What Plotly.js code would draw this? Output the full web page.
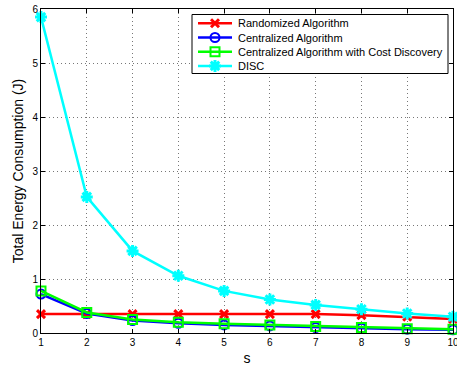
<!DOCTYPE html>
<html>
<head>
<script src="https://cdn.plot.ly/plotly-3.0.1.min.js"></script>
<style>html,body{margin:0;padding:0;background:#fff;}#chart{width:457px;height:370px;}</style>
</head>
<body>
<div id="chart"></div>
<script>
const sValues = [1, 2, 3, 4, 5, 6, 7, 8, 9, 10];
const randomized = [0.35, 0.35, 0.35, 0.35, 0.35, 0.35, 0.35, 0.33, 0.30, 0.26];
const centralized = [0.72, 0.36, 0.23, 0.18, 0.15, 0.13, 0.10, 0.09, 0.07, 0.06];
const centralizedCost = [0.78, 0.38, 0.25, 0.20, 0.17, 0.15, 0.12, 0.10, 0.08, 0.07];
const disc = [5.85, 2.52, 1.52, 1.06, 0.78, 0.62, 0.52, 0.44, 0.36, 0.30];
const seriesNames = ['Randomized Algorithm', 'Centralized Algorithm', 'Centralized Algorithm with Cost Discovery', 'DISC'];
const yTicks = [0, 1, 2, 3, 4, 5, 6];

const font = 'Liberation Sans, Arial, Helvetica, sans-serif';
const styles = [
  {color: '#ff0000', symbol: 'x-thin-open', size: 8, mlw: 3},
  {color: '#0000ff', symbol: 'circle-open', size: 9, mlw: 2},
  {color: '#00ff00', symbol: 'square-open', size: 9, mlw: 2},
  {color: '#00ffff', symbol: 'asterisk-open', size: 10, mlw: 3}
];
const series = [randomized, centralized, centralizedCost, disc];

const data = series.map((y, i) => ({
  x: sValues, y: y, name: seriesNames[i], type: 'scatter', mode: 'lines+markers',
  showlegend: false, cliponaxis: false,
  line: {color: styles[i].color, width: 2.5},
  marker: {symbol: styles[i].symbol, size: styles[i].size, color: styles[i].color,
           line: {color: styles[i].color, width: styles[i].mlw}}
}));

// Compact legend, laid out in pixels of the plot area (left 41, right 453, top 9, bottom 333)
const P = {l: 41, r: 453, t: 9, b: 333};
const L = {x0: 192, x1: 448, y0: 14.5, y1: 73.5, rowY: 23.3, rowGap: 14.2, lx0: 198, lx1: 232, tx: 236};
data.push({
  x: [L.x0, L.x1, L.x1, L.x0, L.x0], y: [L.y0, L.y0, L.y1, L.y1, L.y0], xaxis: 'x2', yaxis: 'y2',
  type: 'scatter', mode: 'lines', fill: 'toself', fillcolor: '#fff', showlegend: false, hoverinfo: 'skip',
  line: {color: '#000', width: 1}
});
const annotations = [];
seriesNames.forEach((name, i) => {
  const yy = L.rowY + i * L.rowGap;
  data.push({
    x: [L.lx0, (L.lx0 + L.lx1) / 2, L.lx1], y: [yy, yy, yy], xaxis: 'x2', yaxis: 'y2',
    type: 'scatter', mode: 'lines', showlegend: false, hoverinfo: 'skip',
    line: {color: styles[i].color, width: 2.5}
  });
  data.push({
    x: [(L.lx0 + L.lx1) / 2], y: [yy], xaxis: 'x2', yaxis: 'y2',
    type: 'scatter', mode: 'markers', showlegend: false, hoverinfo: 'skip',
    marker: {symbol: styles[i].symbol, size: styles[i].size, color: styles[i].color,
             line: {color: styles[i].color, width: styles[i].mlw}}
  });
  annotations.push({xref: 'x2', yref: 'y2', x: L.tx, y: yy, text: name, showarrow: false,
    xanchor: 'left', yanchor: 'middle', font: {family: font, size: 11, color: '#000'}});
});

const layout = {
  width: 457, height: 370,
  margin: {l: 41, r: 4, t: 9, b: 37},
  paper_bgcolor: '#fff', plot_bgcolor: '#fff',
  font: {family: font, size: 10, color: '#000'},
  showlegend: false,
  annotations: annotations,
  xaxis: {
    range: [1, 10], tickvals: sValues, ticktext: sValues.map(String),
    ticks: 'inside', ticklen: 4, tickcolor: '#000', mirror: 'ticks',
    showline: true, linecolor: '#000', linewidth: 1,
    showgrid: true, gridcolor: '#777', griddash: '1px,3px', gridwidth: 1,
    zeroline: false, ticklabeloverflow: 'allow',
    tickfont: {family: font, size: 10},
    title: {text: 's', font: {family: font, size: 14}, standoff: 6}
  },
  yaxis: {
    range: [0, 6], tickvals: yTicks, ticktext: yTicks.map(String),
    ticks: 'inside', ticklen: 4, tickcolor: '#000', mirror: 'ticks',
    showline: true, linecolor: '#000', linewidth: 1,
    showgrid: true, gridcolor: '#777', griddash: '1px,3px', gridwidth: 1,
    zeroline: false,
    tickfont: {family: font, size: 10},
    title: {text: 'Total Energy Consumption (J)', font: {family: font, size: 14}, standoff: 5}
  },
  xaxis2: {overlaying: 'x', range: [P.l, P.r], visible: false, fixedrange: true},
  yaxis2: {overlaying: 'y', range: [P.b, P.t], visible: false, fixedrange: true}
};
Plotly.newPlot('chart', data, layout, {displayModeBar: false, staticPlot: true});
</script>
</body>
</html>
